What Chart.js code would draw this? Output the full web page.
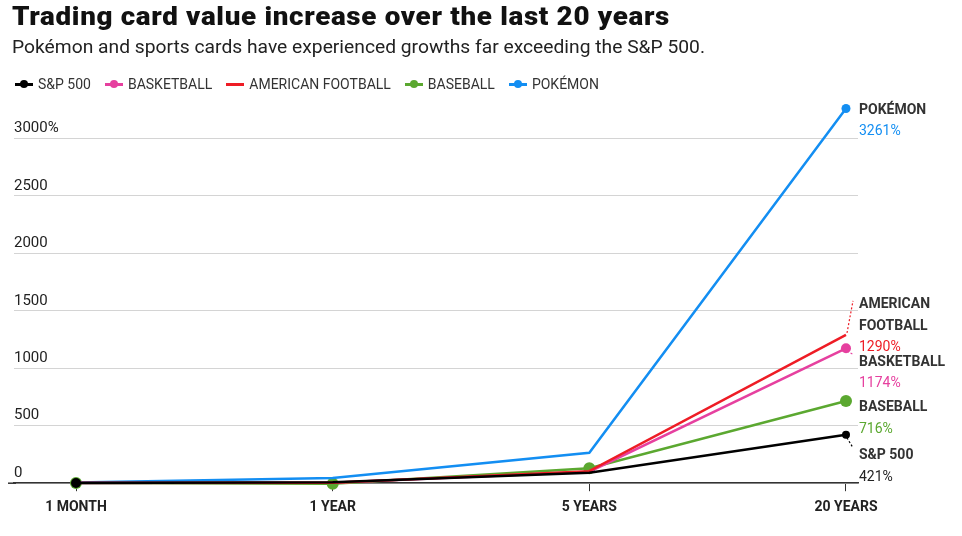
<!DOCTYPE html>
<html>
<head>
<meta charset="utf-8">
<script src="https://cdn.jsdelivr.net/npm/chart.js@4/dist/chart.umd.min.js"></script>
<style>
  html, body { margin: 0; padding: 0; background: #fff; }
  #wrap { position: relative; width: 962px; height: 536px; overflow: hidden; font-family: Roboto, "Noto Sans", sans-serif; }
  #c { position: absolute; left: 0; top: 0; }
  #title { position: absolute; left: 12px; top: 2px; font-size: 25px; font-weight: 900; color: #111; white-space: nowrap; letter-spacing: 0.6px; transform-origin: 0 0; }
  #subtitle { position: absolute; left: 12px; top: 35px; font-size: 19px; font-weight: 400; color: #222; white-space: nowrap; transform-origin: 0 0; }
  #legend { position: absolute; left: 15px; top: 76px; display: flex; align-items: center; font-size: 14px; color: #333; white-space: nowrap; }
  .li { display: flex; align-items: center; margin-right: 14px; }
  .mk { position: relative; width: 18px; height: 10px; margin-right: 5px; }
  .mk .ln { position: absolute; left: 0; right: 0; top: 4px; height: 2.5px; }
  .mk .dt { position: absolute; left: 5px; top: 1px; width: 8px; height: 8px; border-radius: 50%; }
</style>
</head>
<body>
<div id="wrap">
  <canvas id="c" width="962" height="536"></canvas>
  <div id="title">Trading card value increase over the last 20 years</div>
  <div id="subtitle">Pokémon and sports cards have experienced growths far exceeding the S&amp;P 500.</div>
  <div id="legend"></div>
</div>
<script>
// ---- data ----
const categories = ['1 MONTH', '1 YEAR', '5 YEARS', '20 YEARS'];
const seriesNames = ['S&P 500', 'BASKETBALL', 'AMERICAN FOOTBALL', 'BASEBALL', 'POKÉMON'];
const labelNames = [['S&P 500'], ['BASKETBALL'], ['AMERICAN', 'FOOTBALL'], ['BASEBALL'], ['POKÉMON']];
const sp500 = [1, 8, 90, 421];
const basketball = [2, 3, 100, 1174];
const americanFootball = [3, 5, 105, 1290];
const baseball = [2, -5, 130, 716];
const pokemon = [6, 45, 265, 3261];
const yTicks = [0, 500, 1000, 1500, 2000, 2500, 3000];

// ---- styles ----
const colors = ['#000000', '#e6409f', '#ee1c25', '#5ba830', '#138ef2'];
const values = [sp500, basketball, americanFootball, baseball, pokemon];
const pointRadii = [[5, 0, 0, 4], [0, 0, 0, 5], [0, 0, 0, 0], [6, 6, 6, 6], [0, 0, 0, 4.5]];
const drawOrder = [0, 3, 1, 4, 2];
const legendDot = [true, true, false, true, true];
// label nudges (px) relative to end point, and leader lines
const labelNudge = [21, 14, -30, 7, 2];
const leader = [true, true, true, false, false];
const lineGap = 21.5;

// fit heading widths to the reference layout
function fitWidth(id, w) {
  const el = document.getElementById(id);
  const cur = el.getBoundingClientRect().width;
  el.style.transform = 'scaleX(' + (w / cur) + ')';
}
fitWidth('title', 658);
fitWidth('subtitle', 693);

const datasets = values.map((vals, i) => ({
  label: seriesNames[i],
  data: vals.map((v, j) => ({ x: j, y: v })),
  borderColor: colors[i],
  backgroundColor: colors[i],
  borderWidth: 2.5,
  pointRadius: pointRadii[i],
  pointHoverRadius: pointRadii[i],
  pointBorderWidth: 0,
  tension: 0,
  clip: false,
  order: drawOrder[i]
}));

// HTML legend from the series
const legendEl = document.getElementById('legend');
seriesNames.forEach((n, i) => {
  const li = document.createElement('div');
  li.className = 'li';
  li.innerHTML = '<div class="mk"><div class="ln" style="background:' + colors[i] + '"></div>' +
    (legendDot[i] ? '<div class="dt" style="background:' + colors[i] + '"></div>' : '') +
    '</div><span>' + n + '</span>';
  legendEl.appendChild(li);
});

const endLabels = {
  id: 'endLabels',
  afterDatasetsDraw(chart) {
    const ctx = chart.ctx;
    const xs = chart.scales.x, ys = chart.scales.y;
    const last = categories.length - 1;
    ctx.save();
    values.forEach((vals, i) => {
      const px = xs.getPixelForValue(last);
      const py = ys.getPixelForValue(vals[last]);
      const lx = px + 13;
      let ly = py + labelNudge[i];
      if (leader[i]) {
        ctx.save();
        ctx.strokeStyle = colors[i];
        ctx.lineWidth = 1.2;
        ctx.setLineDash([2, 2]);
        ctx.beginPath();
        ctx.moveTo(px + 1, py + (labelNudge[i] > 0 ? 3 : -2));
        ctx.lineTo(px + 7, labelNudge[i] > 0 ? ly - 8 : ly - 4);
        ctx.stroke();
        ctx.restore();
      }
      ctx.textAlign = 'left';
      ctx.textBaseline = 'middle';
      ctx.font = 'bold 14px Roboto';
      ctx.fillStyle = '#333';
      labelNames[i].forEach((t, k) => {
        ctx.fillText(t, lx, ly + k * lineGap);
      });
      ctx.font = '14px Roboto';
      ctx.fillStyle = colors[i] === '#000000' ? '#222' : colors[i];
      ctx.fillText(vals[last] + '%', lx, ly + labelNames[i].length * lineGap);
    });
    ctx.restore();
  }
};

// extend the baseline slightly to the left as in the reference
const baseLine = {
  id: 'baseLine',
  afterDraw(chart) {
    const ctx = chart.ctx, a = chart.chartArea;
    ctx.save();
    ctx.strokeStyle = '#333';
    ctx.lineWidth = 1.5;
    ctx.beginPath();
    ctx.moveTo(a.left - 6, a.bottom);
    ctx.lineTo(a.left + 2, a.bottom);
    ctx.stroke();
    ctx.restore();
  }
};

new Chart(document.getElementById('c'), {
  type: 'line',
  data: { datasets },
  options: {
    responsive: false,
    animation: false,
    events: [],
    layout: { padding: { left: 14, right: 104, top: 104, bottom: 12 } },
    plugins: { legend: { display: false }, tooltip: { enabled: false }, title: { display: false } },
    scales: {
      x: {
        type: 'linear',
        min: -0.2416,
        max: 3.0468,
        afterBuildTicks(scale) { scale.ticks = categories.map((_, i) => ({ value: i })); },
        grid: { drawOnChartArea: false, drawTicks: true, tickLength: 8, color: '#333', lineWidth: 1 },
        border: { display: true, color: '#333', width: 1.5 },
        ticks: {
          autoSkip: false, maxRotation: 0, padding: 8, color: '#222',
          font: { family: 'Roboto', size: 14, weight: 'bold' },
          callback: (v) => categories[v]
        }
      },
      y: {
        min: 0,
        max: 3300,
        afterBuildTicks(scale) { scale.ticks = yTicks.map(v => ({ value: v })); },
        grid: { drawTicks: false, color: '#d4d4d4', lineWidth: 1 },
        border: { display: false },
        ticks: {
          mirror: true, padding: 0, labelOffset: -10, color: '#222',
          font: { family: 'Roboto', size: 15 },
          callback: (v) => v === yTicks[yTicks.length - 1] ? v + '%' : String(v)
        }
      }
    }
  },
  plugins: [endLabels, baseLine]
});
</script>
</body>
</html>
